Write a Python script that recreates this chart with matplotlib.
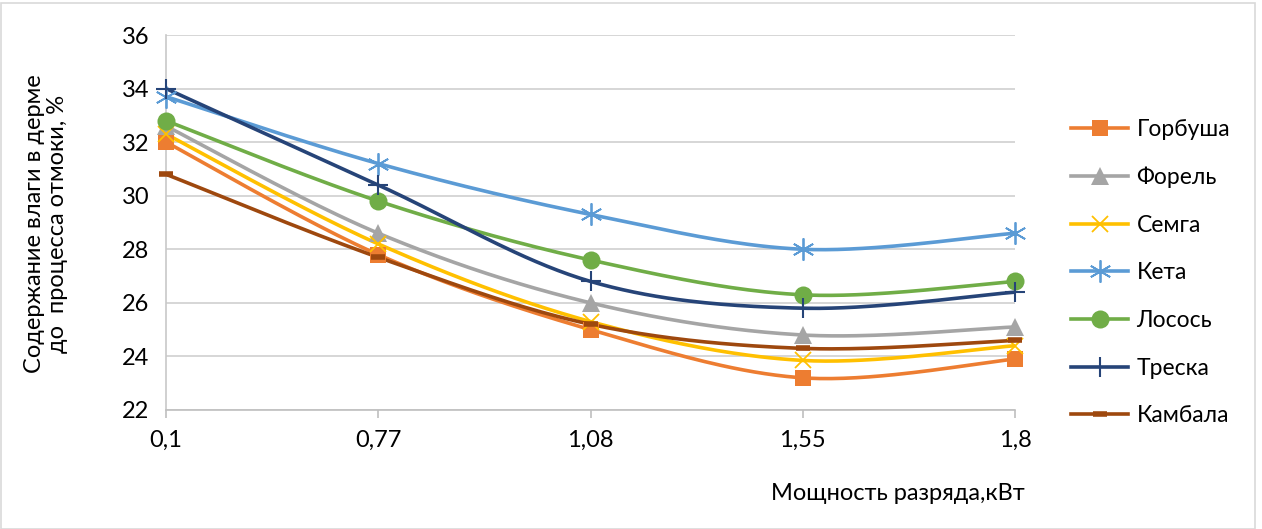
import numpy as np
import matplotlib
matplotlib.use("Agg")
import matplotlib.pyplot as plt
from matplotlib.patches import Rectangle

plt.rcParams['font.family'] = ['Lato', 'DejaVu Sans']

categories = ["0,1", "0,77", "1,08", "1,55", "1,8"]
gorbusha = [32.0, 27.8, 25.0, 23.2, 23.9]
forel = [32.6, 28.6, 26.0, 24.8, 25.1]
semga = [32.3, 28.2, 25.3, 23.85, 24.4]
keta = [33.7, 31.2, 29.3, 28.0, 28.6]
losos = [32.8, 29.8, 27.6, 26.3, 26.8]
treska = [34.0, 30.4, 26.8, 25.8, 26.4]
kambala = [30.8, 27.7, 25.2, 24.3, 24.6]

series = [
    ("Горбуша", gorbusha, "#ED7D31", dict(marker='s', markersize=12, mew=0)),
    ("Форель", forel, "#A5A5A5", dict(marker='^', markersize=13, mew=0)),
    ("Семга", semga, "#FFC000", dict(marker='x', markersize=12, mew=1.3)),
    ("Кета", keta, "#5B9BD5", dict(marker=(6, 2, 0), markersize=16, mew=1.3)),
    ("Лосось", losos, "#70AD47", dict(marker='o', markersize=13, mew=0)),
    ("Треска", treska, "#264478", dict(marker='+', markersize=14, mew=1.5)),
    ("Камбала", kambala, "#9E480E", dict(marker='_', markersize=10, mew=4)),
]


def smooth(x, y, n=40):
    x = np.asarray(x, float)
    y = np.asarray(y, float)
    P = np.column_stack([x, y])
    out = []
    for i in range(len(P) - 1):
        p0 = P[i - 1] if i > 0 else P[i]
        p1 = P[i]
        p2 = P[i + 1]
        p3 = P[i + 2] if i + 2 < len(P) else P[i + 1]
        c1 = p1 + (p2 - p0) / 6.0
        c2 = p2 - (p3 - p1) / 6.0
        t = np.linspace(0, 1, n)[:, None]
        seg = ((1 - t) ** 3) * p1 + 3 * ((1 - t) ** 2) * t * c1 + 3 * (1 - t) * t ** 2 * c2 + t ** 3 * p2
        out.append(seg if i == 0 else seg[1:])
    seg = np.vstack(out)
    return seg[:, 0], seg[:, 1]


W, H = 1262, 529
fig = plt.figure(figsize=(W / 100, H / 100), dpi=100)
ax = fig.add_axes([166 / W, (H - 410) / H, (1015 - 166) / W, (410 - 35) / H])

x = np.arange(len(categories))
handles = []
for name, vals, col, mk in series:
    xs, ys = smooth(x, vals)
    ax.plot(xs, ys, color=col, lw=2.6, solid_capstyle='round', zorder=2)
    ax.plot(x, vals, linestyle='none', color=col, markerfacecolor=col,
            markeredgecolor=col, zorder=3, clip_on=False, **mk)
    handles.append(ax.plot([], [], color=col, lw=2.6, markerfacecolor=col,
                           markeredgecolor=col, **mk)[0])

ax.set_xlim(0, 4)
ax.set_ylim(22, 36)
ax.set_yticks(np.arange(22, 37, 2))
ax.set_xticks(x)
ax.set_xticklabels(categories)
ax.grid(axis='y', color='#D0D0D0', lw=1.2)
ax.set_axisbelow(True)
for s in ['top', 'right']:
    ax.spines[s].set_visible(False)
ax.spines['left'].set_color('#C8C8C8')
ax.spines['bottom'].set_color('#BFBFBF')
ax.spines['left'].set_linewidth(1.2)
ax.spines['bottom'].set_linewidth(1.2)
ax.tick_params(axis='y', length=0, labelsize=17, pad=12)
ax.tick_params(axis='x', length=6, color='#BFBFBF', width=1.2, labelsize=17, pad=8)

fig.text(46 / W, 1 - 224 / H, "Содержание влаги в дерме\nдо  процесса отмоки, %",
         rotation=90, ha='center', va='center', fontsize=17, linespacing=1.15)
fig.text(898 / W, 1 - 494 / H, "Мощность разряда,кВт", ha='center', va='center', fontsize=17)

leg = fig.legend(handles, [s[0] for s in series], loc='upper left',
                 bbox_to_anchor=(1062 / W, 1 - 110 / H), frameon=False,
                 fontsize=16.5, handlelength=2.5, labelspacing=1.16, handletextpad=0.35,
                 numpoints=1, borderaxespad=0)

fig.patches.append(Rectangle((0.5 / W, 0.5 / H), (W - 8) / W, (H - 3) / H,
                             transform=fig.transFigure, fill=False,
                             edgecolor='#D9D9D9', lw=1.2))

fig.savefig("out.png", dpi=100)
